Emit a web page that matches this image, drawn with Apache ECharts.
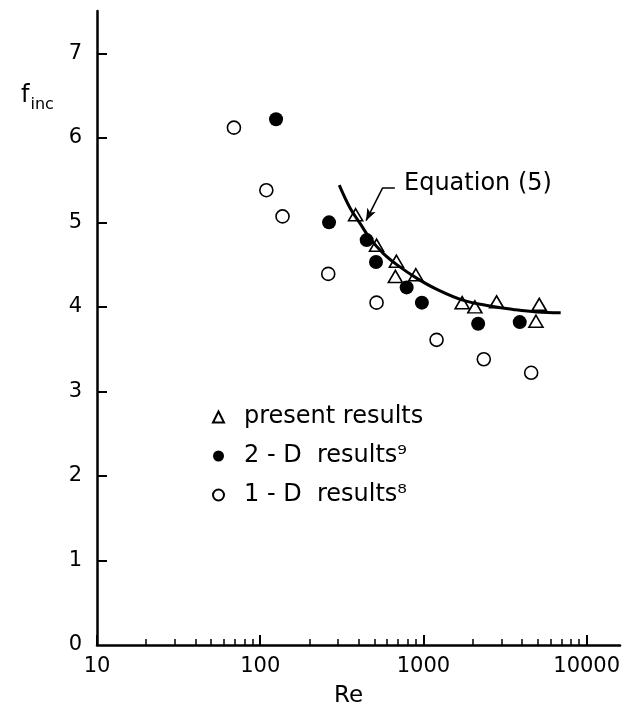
<!DOCTYPE html>
<html>
<head>
<meta charset="utf-8">
<script src="https://cdn.jsdelivr.net/npm/echarts@6/dist/echarts.min.js"></script>
<style>
html, body { margin: 0; padding: 0; background: #fff; }
#chart { width: 625px; height: 727px; }
</style>
</head>
<body>
<div id="chart"></div>
<script>
// present results (triangles)
var presentRe = [384, 516, 683, 673, 898, 1726, 2065, 2806, 5120, 4890];
var presentF = [5.09, 4.73, 4.54, 4.36, 4.38, 4.05, 4.00, 4.06, 4.03, 3.83];
// 2-D results (filled circles)
var twoDRe = [125, 264, 449, 512, 789, 978, 2163, 3890];
var twoDF = [6.22, 5.00, 4.79, 4.53, 4.23, 4.05, 3.80, 3.82];
// 1-D results (open circles)
var oneDRe = [69, 109, 137, 261, 516, 1203, 2342, 4571];
var oneDF = [6.12, 5.38, 5.07, 4.39, 4.05, 3.61, 3.38, 3.22];
// Equation (5) curve
var eqRe = [305, 355, 408, 470, 569, 686, 908, 1200, 1740, 2555, 3540, 4950, 6930];
var eqF = [5.44, 5.17, 4.99, 4.81, 4.63, 4.50, 4.34, 4.21, 4.08, 4.01, 3.97, 3.94, 3.93];

var xMajor = [10, 100, 1000, 10000];
var xMinor = [20, 30, 40, 50, 60, 70, 80, 90, 200, 300, 400, 500, 600, 700, 800, 900,
    2000, 3000, 4000, 5000, 6000, 7000, 8000, 9000];
var yTicks = [0, 1, 2, 3, 4, 5, 6, 7];

function pairs(xs, ys) {
    return xs.map((x, i) => [x, ys[i]]);
}

var FONT = 'DejaVu Sans';
var INK = '#000';

var chart = echarts.init(document.getElementById('chart'));

var option = {
    animation: false,
    backgroundColor: '#fff',
    grid: { left: 97, right: 5, top: 11, bottom: 82 },
    xAxis: [{
        type: 'log',
        logBase: 10,
        min: 10,
        max: 16000,
        position: 'bottom',
        name: 'Re',
        nameLocation: 'middle',
        nameGap: 40,
        nameTextStyle: { fontFamily: FONT, fontSize: 23, color: INK, padding: [0, 20, 0, 0] },
        axisLine: { show: true, lineStyle: { color: INK, width: 2.5 } },
        axisTick: { show: true, inside: true, length: 10, customValues: xMajor, lineStyle: { color: INK, width: 2 } },
        axisLabel: {
            show: true, customValues: xMajor, margin: 11,
            fontFamily: FONT, fontSize: 21, color: INK,
            formatter: v => String(Math.round(v))
        },
        splitLine: { show: false },
        minorTick: { show: false }
    }, {
        type: 'log',
        logBase: 10,
        min: 10,
        max: 16000,
        position: 'bottom',
        axisLine: { show: false },
        axisTick: { show: true, inside: true, length: 6, customValues: xMinor, lineStyle: { color: INK, width: 1.5 } },
        axisLabel: { show: false },
        splitLine: { show: false }
    }],
    yAxis: {
        type: 'value',
        min: 0,
        max: 7.5,
        axisLine: { show: true, lineStyle: { color: INK, width: 2.5 } },
        axisTick: { show: true, inside: true, length: 10, customValues: yTicks.slice(1), lineStyle: { color: INK, width: 2 } },
        axisLabel: { show: true, customValues: yTicks, margin: 15, fontFamily: FONT, fontSize: 21, color: INK },
        splitLine: { show: false }
    },
    legend: {
        orient: 'vertical',
        left: 207,
        top: 400,
        itemGap: 15,
        itemWidth: 11,
        itemHeight: 11,
        selectedMode: false,
        data: ['present results', '2 - D  results', '1 - D  results'],
        formatter: function(name) {
            if (name === '2 - D  results') return '{t|' + name + '⁹}';
            if (name === '1 - D  results') return '{t|' + name + '⁸}';
            return '{t|' + name + '}';
        },
        textStyle: {
            fontFamily: FONT,
            fontSize: 24,
            color: INK,
            rich: {
                t: { fontFamily: FONT, fontSize: 24, color: INK, lineHeight: 26, padding: [0, 0, 0, 15] }
            }
        }
    },
    graphic: [{
        type: 'text',
        left: 21,
        top: 84,
        style: {
            text: '{f|f}{i|inc}',
            rich: {
                f: { fontFamily: FONT, fontSize: 24, color: INK, lineHeight: 28, verticalAlign: 'bottom' },
                i: { fontFamily: FONT, fontSize: 16, color: INK, lineHeight: 28, verticalAlign: 'bottom', padding: [0, 0, -5, 1] }
            }
        }
    }, {
        type: 'text',
        left: 404,
        top: 172,
        style: { text: 'Equation (5)', fontFamily: FONT, fontSize: 24, fill: INK }
    }],
    series: [{
        name: 'Equation (5)',
        type: 'line',
        data: pairs(eqRe, eqF),
        smooth: 0.4,
        showSymbol: false,
        symbol: 'none',
        lineStyle: { color: INK, width: 3 },
        markLine: {
            silent: true,
            symbol: ['none', 'arrow'],
            symbolSize: [7, 12],
            label: { show: false },
            lineStyle: { color: INK, width: 1.5, type: 'solid' },
            data: [
                [{ coord: [668, 5.41], symbol: 'none' }, { coord: [563, 5.41], symbol: 'none' }],
                [{ coord: [563, 5.41], symbol: 'none' }, { coord: [445, 5.02] }]
            ]
        }
    }, {
        name: 'present results',
        type: 'scatter',
        data: pairs(presentRe, presentF),
        symbol: 'triangle',
        symbolSize: [14, 12],
        itemStyle: { color: '#fff', borderColor: INK, borderWidth: 1.6, opacity: 1 }
    }, {
        name: '2 - D  results',
        type: 'scatter',
        data: pairs(twoDRe, twoDF),
        symbol: 'circle',
        symbolSize: 14,
        itemStyle: { color: INK, borderColor: INK, borderWidth: 0, opacity: 1 }
    }, {
        name: '1 - D  results',
        type: 'scatter',
        data: pairs(oneDRe, oneDF),
        symbol: 'circle',
        symbolSize: 13,
        itemStyle: { color: '#fff', borderColor: INK, borderWidth: 1.6, opacity: 1 }
    }]
};

chart.setOption(option);
</script>
</body>
</html>
